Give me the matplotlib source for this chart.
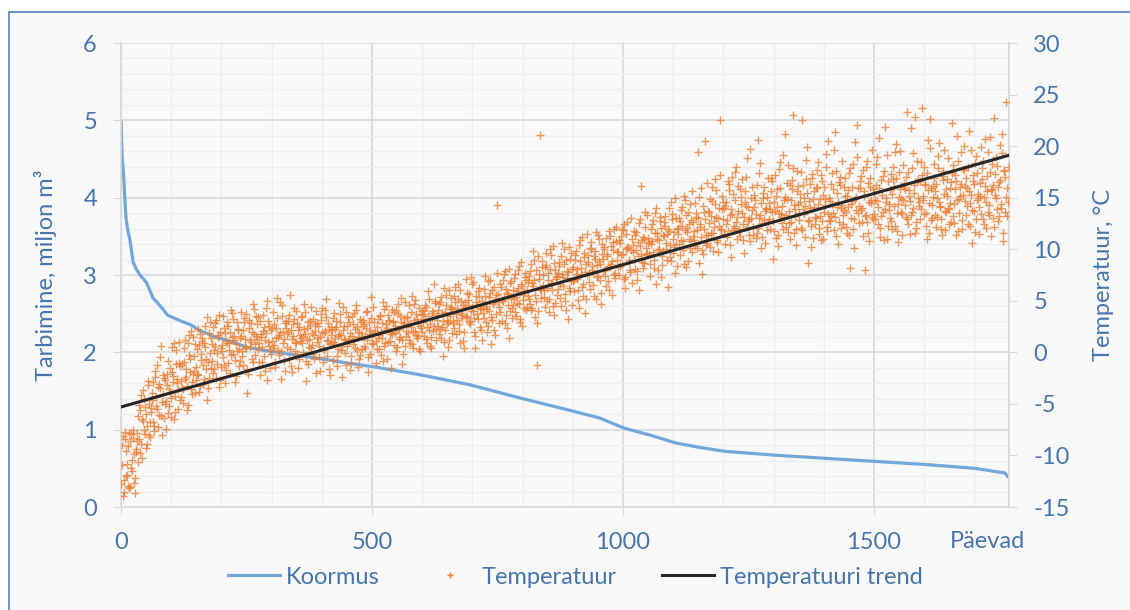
import numpy as np
import matplotlib.pyplot as plt
from matplotlib.lines import Line2D
from matplotlib.patches import Rectangle

plt.rcParams['font.family'] = ['Lato', 'DejaVu Sans']
plt.rcParams['axes.unicode_minus'] = False

# Koormus: load duration curve, day index -> million m3
load_days = [0, 2, 5, 8, 10, 13, 18, 20, 24, 30, 38, 51, 64, 77, 93, 121, 141, 154,
             187, 220, 253, 320, 386, 452, 506, 596, 695, 795, 894, 954, 1002, 1054,
             1104, 1153, 1203, 1303, 1402, 1502, 1602, 1701, 1761, 1768]
load_vals = [5.0, 4.55, 4.3, 3.95, 3.73, 3.6, 3.45, 3.35, 3.17, 3.08, 3.0, 2.9, 2.7, 2.61,
             2.48, 2.4, 2.35, 2.29, 2.2, 2.14, 2.06, 1.99, 1.93, 1.86, 1.81, 1.71, 1.58,
             1.41, 1.25, 1.15, 1.02, 0.93, 0.83, 0.77, 0.72, 0.67, 0.63, 0.59, 0.55, 0.5,
             0.44, 0.38]

# Temperatuur (deg C): days 0, 3, 6, ...
temps_a = [
    -12.8, -8.1, -13.5, -9.6, -11.9, -7.8, -13.1, -10.4, -8.3, -12.2,   # 0
    -9.7, -6.2, -8.4, -4.1, -10.2, -7.5, -5.3, -8.9, -3.2, -6.8,
    -5.8, -2.9, -7.6, -4.3, -1.2, -6.1, -3.5, -8.0, -2.2, -5.0,
    -4.7, -0.8, -3.6, -6.3, -1.9, 0.9, -4.2, -2.6, -5.5, -1.3,
    -2.8, -4.9, 0.4, -1.6, -3.3, 1.7, -0.6, -4.0, -2.1, 0.8,
    -1.4, 2.3, -3.8, -0.2, 1.1, -2.6, 0.5, -4.6, -0.9, 2.9,          # 150
    1.4, -2.0, 0.2, 3.1, -1.1, -3.4, 2.0, 0.7, -0.5, 1.9,
    -1.7, 2.6, 0.9, -0.3, 3.8, 1.2, -2.9, 0.1, 2.2, -0.8,
    1.6, -1.2, 3.3, 0.4, -3.9, 2.4, 1.0, -0.6, 4.2, 0.8,
    2.7, 0.3, -2.2, 1.5, 3.6, -0.4, 1.9, 5.0, 0.6, -1.5,
    1.1, 3.9, -0.9, 2.4, 0.2, 1.7, -2.6, 4.6, 1.3, 2.8,              # 300
    0.5, 2.0, 5.6, -1.3, 1.6, 3.2, 0.9, -0.2, 2.5, 1.1,
    3.5, 0.0, 1.8, -2.8, 2.9, 1.3, 4.4, 0.7, -0.6, 2.1,
    1.0, 2.6, -1.8, 3.7, 0.4, 1.9, 5.2, -0.4, 2.3, 0.8,
    2.2, -0.7, 1.4, 3.0, 0.3, 4.8, 1.7, -2.4, 2.6, 1.2,
    0.6, 3.4, 1.9, -1.0, 2.7, 1.3, 4.1, 0.2, 2.0, -0.3,              # 450
    1.5, 3.1, 0.4, 2.4, -1.9, 1.8, 5.4, 0.9, 2.9, 1.1,
    2.5, 0.3, 3.6, 1.4, -0.8, 2.2, 4.5, 1.0, 3.0, -1.5,
    1.8, 3.9, 2.6, 0.5, 4.7, 1.5, 2.9, -0.2, 3.3, 2.1,
    3.4, 1.2, 2.8, 5.5, 0.4, 2.1, 3.7, 1.6, 4.3, 2.4,
    2.0, 4.1, 3.2, 0.9, 5.9, 2.7, 1.5, 3.8, 6.6, 2.3,                # 600
    3.6, 1.8, 4.9, 2.5, -0.4, 3.9, 5.6, 2.9, 1.2, 4.4,
    4.2, 2.4, 6.3, 3.1, 5.2, 0.9, 3.8, 4.6, 2.0, 7.1,
    3.5, 5.7, 2.7, 4.4, 6.8, 1.6, 4.9, 3.2, 5.4, 2.2,
    5.0, 3.3, 7.4, 4.2, 2.6, 5.8, 0.8, 4.7, 6.3, 3.7,
    14.3, 4.4, 6.6, 3.0, 5.3, 7.9, 2.4, 5.7, 4.0, 6.9,               # 750
    4.6, 7.2, 3.5, 5.9, 8.4, 2.9, 6.4, 5.1, 7.7, 4.1,
    6.8, 5.2, 8.6, 4.3, 7.0, 3.4, -1.2, 9.3, 21.1, 6.0,
    7.5, 5.4, 9.6, 6.2, 3.9, 8.1, 6.7, 10.3, 4.8, 7.3,
    6.1, 8.8, 4.5, 7.6, 10.0, 5.7, 7.9, 3.2, 9.1, 6.9,
    8.3, 5.9, 9.8, 7.1, 4.3, 8.9, 11.2, 6.6, 7.8, 5.2,               # 900
    9.4, 6.8, 10.7, 8.0, 5.5, 9.1, 7.3, 11.4, 8.6, 4.7,
    7.9, 10.2, 6.4, 9.5, 11.8, 8.3, 5.6, 9.9, 7.2, 10.8,
    9.7, 7.5, 11.3, 8.6, 12.4, 6.2, 10.1, 9.0, 7.8, 11.0,
    10.4, 8.1, 11.7, 9.3, 6.0, 16.1, 10.9, 8.7, 12.2, 9.6,
    11.1, 7.4, 10.5, 12.8, 9.0, 6.6, 11.6, 10.0, 13.1, 8.5,          # 1050
    9.8, 12.3, 10.6, 6.3, 11.8, 8.9, 13.4, 10.2, 7.7, 12.0,
    11.5, 9.4, 13.8, 10.8, 15.2, 8.3, 12.1, 11.0, 14.4, 9.7,
    12.6, 10.3, 13.5, 19.4, 8.7, 11.2, 7.6, 12.0, 20.5, 10.6,
    11.4, 14.9, 13.2, 9.8, 12.7, 15.7, 10.9, 12.3, 22.5, 13.9,
    12.9, 10.5, 14.6, 11.8, 16.3, 9.2, 13.4, 12.1, 17.5, 11.0,       # 1200
    13.7, 11.3, 15.1, 12.4, 9.6, 14.2, 18.8, 12.9, 10.8, 16.0,
    12.2, 14.8, 11.6, 20.6, 13.3, 10.1, 15.5, 12.8, 14.0, 11.9,
    14.5, 12.0, 16.6, 9.1, 13.7, 15.2, 11.4, 17.8, 13.1, 12.5,
    13.0, 21.2, 14.9, 11.7, 16.2, 12.6, 23.0, 14.3, 10.4, 15.6,
    12.8, 15.4, 22.5, 13.9, 11.2, 16.8, 8.7, 14.7, 12.3, 17.3,       # 1350
    14.1, 12.4, 16.0, 18.5, 13.2, 10.9, 15.3, 13.6, 19.2, 11.8,
    15.0, 12.7, 17.4, 13.5, 21.4, 11.3, 14.6, 16.5, 12.1, 14.3,
    13.8, 16.9, 11.6, 15.7, 8.2, 14.4, 18.3, 12.9, 15.1, 22.0,
    12.5, 15.9, 14.0, 17.7, 8.0, 13.3, 16.4, 10.8, 14.8, 19.6,
    15.5, 12.9, 18.9, 14.1, 11.2, 16.7, 13.6, 21.9, 15.0, 12.3,      # 1500
    14.4, 17.3, 12.0, 16.1, 19.4, 13.5, 10.7, 15.8, 14.9, 18.2,
    16.4, 13.1, 23.3, 15.2, 11.5, 17.9, 14.0, 22.8, 12.6, 16.8,
    14.6, 18.5, 23.7, 13.4, 16.3, 11.0, 15.7, 19.8, 12.8, 15.1,
    16.9, 12.2, 15.0, 20.3, 14.2, 11.4, 17.6, 13.7, 15.8, 18.8,
    13.9, 16.5, 22.2, 12.5, 17.2, 14.8, 11.8, 16.0, 19.4, 15.3,      # 1650
    17.7, 13.3, 15.9, 21.5, 14.5, 10.6, 16.6, 18.4, 12.9, 15.4,
    14.1, 19.9, 16.8, 12.4, 20.7, 15.6, 13.6, 17.5, 11.3, 16.2,
    22.7, 15.0, 18.1, 13.2, 16.7, 19.3, 10.8, 17.0, 24.3, 14.6,
]

# Temperatuur (deg C): days 1, 4, 7, ...
temps_b = [
    -10.9, -13.9, -8.4, -12.0, -9.1, -13.2, -7.9, -11.5, -9.9, -13.6,  # 1
    -7.8, -10.6, -5.6, -8.9, -6.7, -4.5, -9.3, -7.1, -5.0, -8.2,
    -3.9, -6.8, -2.4, -5.2, -7.2, -3.1, 0.6, -4.8, -6.4, -2.7,
    -3.2, -5.9, -1.5, -4.4, -2.3, -6.5, 0.2, -3.0, -1.0, -4.6,
    -1.1, -3.6, 1.2, -2.4, -5.1, -0.3, 2.1, -2.9, -1.8, -3.9,
    0.3, -2.2, 1.8, -0.7, -3.1, 0.9, -1.6, 3.4, -2.5, -0.1,          # 151
    -0.8, 2.5, 0.6, -2.5, 1.5, 3.6, -1.4, 0.1, 2.4, -3.0,
    0.9, -1.0, 2.0, 4.1, -0.2, 1.6, -2.3, 2.9, 0.3, 1.4,
    -0.4, 2.2, 0.6, 3.7, -2.1, 1.2, 2.8, -0.9, 1.8, 3.5,
    1.3, -0.9, 3.0, 0.5, 2.1, -1.8, 4.3, 1.0, 2.6, -0.2,
    2.4, 0.7, -1.4, 3.3, 1.5, 4.9, 0.1, 2.0, -0.7, 3.0,              # 301
    1.8, 3.6, 0.3, -1.9, 2.7, 1.0, 4.0, 2.2, -0.6, 1.4,
    0.9, 2.3, 3.9, 1.2, -1.1, 2.6, 0.4, 3.2, 1.7, -2.0,
    2.8, 0.6, 1.5, 4.3, -0.9, 2.1, 3.4, 1.1, -1.6, 2.5,
    0.9, 3.8, 2.3, -0.4, 1.6, 2.9, 0.2, 4.4, 1.3, -1.2,
    2.6, 1.1, -1.7, 3.5, 0.8, 2.3, 4.6, 1.5, -0.6, 2.9,              # 451
    0.3, 2.7, 1.6, 4.0, -0.5, 2.2, 3.3, 0.8, 1.9, -1.0,
    3.2, 1.7, -0.3, 2.8, 4.2, 0.9, 2.4, 3.6, 1.1, 2.0,
    2.9, 0.7, 4.1, 2.2, 1.3, 3.5, -1.1, 2.6, 4.9, 1.6,
    1.9, 4.6, 2.5, 0.8, 3.1, 5.1, 1.4, 2.8, 0.1, 3.6,
    3.7, 1.6, 4.4, 2.5, 5.2, 0.6, 3.3, 2.1, 4.8, 1.2,                # 601
    2.6, 4.7, 1.4, 3.8, 6.2, 2.2, 3.1, 0.5, 4.2, 5.3,
    3.0, 5.5, 1.8, 4.3, 2.7, 6.0, 3.6, 1.1, 4.9, 3.4,
    5.1, 2.9, 4.0, 6.6, 3.3, 0.4, 4.6, 5.9, 2.5, 4.2,
    3.8, 6.1, 4.5, 2.0, 5.4, 7.0, 3.1, 4.9, 1.7, 5.6,
    4.9, 2.8, 6.3, 5.0, 7.6, 3.6, 5.8, 1.4, 6.7, 4.3,                # 751
    6.0, 3.9, 5.4, 8.0, 4.7, 6.6, 2.6, 5.9, 7.3, 4.4,
    5.5, 7.9, 4.1, 6.4, 9.0, 5.0, 2.8, 7.1, 6.1, 8.3,
    6.5, 4.4, 8.5, 7.0, 5.2, 9.4, 6.0, 3.6, 8.0, 7.4,
    7.7, 5.3, 9.3, 6.4, 8.6, 4.1, 7.2, 10.2, 5.9, 8.1,
    6.9, 9.0, 7.6, 5.1, 10.4, 8.2, 6.3, 9.6, 3.8, 7.5,               # 901
    8.8, 6.1, 10.0, 7.7, 9.3, 5.2, 8.5, 11.0, 7.0, 9.5,
    9.1, 7.4, 11.1, 8.4, 6.0, 10.3, 8.9, 12.0, 7.7, 9.7,
    8.3, 10.6, 9.4, 11.9, 7.1, 10.0, 12.6, 8.8, 9.9, 6.7,
    9.0, 11.4, 7.9, 10.7, 12.9, 9.5, 8.2, 11.0, 10.1, 13.3,
    10.7, 8.6, 12.4, 9.7, 11.6, 14.0, 8.0, 10.9, 12.1, 9.3,          # 1051
    11.3, 13.2, 9.0, 12.0, 10.4, 14.6, 9.6, 11.7, 13.0, 8.4,
    10.5, 12.7, 14.1, 9.9, 11.9, 13.3, 8.9, 12.4, 10.8, 15.6,
    11.8, 14.5, 10.1, 13.0, 12.2, 15.9, 9.5, 13.6, 11.4, 16.4,
    12.5, 10.2, 14.7, 11.6, 16.8, 13.1, 9.7, 14.0, 12.0, 15.2,
    11.5, 14.2, 12.8, 16.6, 10.4, 13.9, 15.4, 12.3, 18.0, 13.1,      # 1201
    12.0, 15.8, 13.5, 10.9, 14.6, 17.0, 12.7, 11.4, 15.0, 13.8,
    14.1, 11.1, 16.2, 13.0, 18.4, 12.5, 15.0, 10.6, 13.9, 16.9,
    12.9, 15.6, 13.6, 11.8, 17.2, 14.1, 10.3, 15.9, 13.4, 19.1,
    14.8, 12.2, 16.4, 13.7, 11.0, 15.8, 17.9, 13.2, 12.0, 16.1,
    13.5, 17.5, 11.9, 15.0, 14.2, 19.9, 12.7, 16.3, 10.2, 14.9,      # 1351
    15.6, 13.0, 17.7, 12.1, 14.9, 16.6, 11.0, 14.3, 18.0, 13.4,
    12.8, 16.3, 14.4, 19.6, 13.1, 15.5, 10.5, 17.0, 14.0, 12.4,
    16.0, 13.6, 15.2, 11.4, 17.9, 14.7, 12.0, 20.4, 13.8, 15.9,
    14.2, 17.1, 12.6, 15.6, 13.2, 18.6, 11.6, 16.0, 14.5, 12.9,
    13.4, 16.2, 14.7, 20.8, 12.1, 15.3, 17.6, 13.9, 11.0, 16.6,      # 1501
    15.7, 12.7, 18.0, 14.2, 16.9, 11.8, 15.1, 19.5, 13.4, 14.8,
    14.3, 17.0, 12.4, 15.7, 21.8, 13.6, 16.2, 11.6, 18.6, 15.0,
    16.6, 13.9, 15.2, 18.0, 12.3, 17.4, 14.5, 22.6, 13.0, 16.1,
    13.3, 16.3, 19.0, 14.6, 12.9, 17.1, 15.4, 11.9, 16.8, 14.0,
    15.9, 12.6, 18.2, 14.4, 16.6, 21.0, 13.5, 15.2, 12.0, 17.8,      # 1651
    14.7, 16.9, 12.4, 15.6, 19.6, 13.8, 16.3, 11.7, 17.4, 15.0,
    16.4, 13.4, 18.6, 15.1, 12.1, 17.1, 14.3, 20.9, 15.8, 13.0,
    15.3, 18.9, 12.7, 16.5, 14.0, 21.2, 17.6, 13.6, 15.9, 18.0,
]

# Temperatuur (deg C): days 2, 5, 8, ...
temps_c = [
    -9.0, -12.4, -7.7, -10.8, -13.0, -8.6, -11.2, -7.5, -12.7, -9.4,  # 2
    -8.6, -5.1, -9.8, -6.5, -3.7, -7.9, -6.0, -2.8, -8.0, -5.4,
    -4.6, -7.1, -1.8, -5.5, -3.4, -0.5, -6.2, -4.0, -2.5, -7.4,
    -2.1, -5.2, -3.9, 0.5, -2.9, -5.8, -1.1, -3.7, 1.0, -4.3,
    -3.5, -0.9, -2.6, -5.6, 0.9, -1.9, -3.6, 1.5, -0.4, -2.7,
    -2.1, 0.7, -3.3, 1.4, -1.2, 2.6, -0.6, -3.5, 1.9, -1.5,          # 152
    0.8, -1.6, 2.8, -0.1, 1.7, -2.7, 0.4, 3.5, -1.2, 1.1,
    2.9, 0.2, -2.0, 1.5, 3.2, -0.7, 0.8, 2.3, -1.3, 3.9,
    0.1, 2.9, 1.3, -1.6, 3.1, 0.5, 2.0, 4.7, -0.3, 1.6,
    3.4, 0.9, 1.8, -0.9, 2.5, 1.2, -2.7, 3.0, 0.2, 2.2,
    0.4, 2.7, 1.4, 5.3, -0.3, 2.0, 3.5, 0.9, -1.8, 2.4,              # 302
    3.0, -0.6, 2.2, 1.3, 4.3, 0.1, 2.8, -1.5, 1.7, 3.4,
    1.6, 4.7, -0.8, 2.4, 0.5, 3.0, 1.9, -0.2, 2.7, 4.0,
    1.4, -0.5, 3.1, 2.0, 0.2, 4.1, 1.2, 2.8, -2.2, 1.7,
    3.3, 1.0, 2.5, -1.3, 1.8, 3.7, 0.6, 2.2, -0.1, 3.9,
    1.3, 2.9, -0.4, 1.6, 3.8, 0.4, 2.5, -1.4, 3.2, 1.9,              # 452
    2.6, 0.6, 3.9, 1.2, 2.9, -0.2, 1.7, 4.4, 2.1, 0.3,
    1.4, 3.5, 2.0, 4.9, 0.6, 2.7, -0.6, 3.1, 1.8, 4.1,
    3.0, 1.9, 0.1, 3.7, 2.3, 5.3, 1.2, 2.8, 0.6, 3.4,
    2.7, 0.9, 3.9, 2.0, 4.7, 1.7, 3.2, 0.3, 2.6, 4.0,
    2.9, 4.6, 1.3, 3.5, 2.2, 0.4, 4.0, 2.6, 5.0, 3.1,                # 602
    4.1, 2.3, 5.4, 3.0, 1.0, 4.6, 2.7, 6.0, 3.5, 1.9,
    2.8, 4.9, 3.7, 6.6, 2.1, 5.0, 3.3, 0.4, 4.4, 5.8,
    4.6, 3.0, 7.3, 4.0, 2.0, 5.5, 3.7, 6.2, 4.3, 1.2,
    4.3, 5.5, 2.9, 6.9, 4.0, 3.4, 6.0, 2.2, 5.1, 7.7,
    5.7, 3.9, 5.1, 7.0, 2.8, 6.1, 4.6, 8.1, 5.2, 3.3,                # 752
    5.3, 7.6, 4.8, 6.2, 3.2, 8.8, 5.6, 4.3, 7.0, 6.0,
    7.4, 4.7, 6.7, 9.8, 5.6, 8.0, 4.0, 7.6, 5.3, 8.9,
    6.0, 8.3, 5.0, 7.7, 10.0, 6.6, 4.5, 8.7, 7.1, 5.6,
    8.4, 6.6, 10.6, 7.3, 5.0, 9.0, 7.8, 6.2, 9.6, 4.6,
    7.0, 9.4, 8.1, 6.0, 10.9, 7.6, 5.5, 9.2, 8.6, 11.5,              # 902
    7.7, 10.1, 8.4, 6.5, 9.8, 11.7, 7.4, 8.9, 5.8, 10.5,
    10.0, 8.0, 9.3, 6.9, 11.3, 8.6, 10.7, 7.5, 12.2, 9.0,
    10.9, 8.4, 12.0, 9.5, 7.3, 11.5, 10.2, 8.0, 13.0, 9.7,
    11.8, 9.9, 7.0, 12.5, 10.3, 8.8, 11.2, 13.6, 9.4, 10.6,
    9.5, 12.0, 10.8, 8.2, 13.5, 11.0, 9.9, 12.7, 7.3, 11.4,          # 1052
    12.6, 10.0, 11.5, 14.0, 9.2, 12.9, 11.0, 15.0, 10.5, 12.1,
    13.0, 10.9, 12.3, 8.6, 14.8, 11.7, 13.6, 10.1, 12.8, 11.3,
    10.9, 13.1, 11.9, 15.1, 12.4, 9.9, 14.2, 12.9, 10.4, 13.7,
    13.6, 11.6, 16.0, 12.2, 14.4, 10.7, 13.0, 17.2, 11.9, 14.6,
    14.0, 12.4, 11.2, 15.7, 13.3, 17.0, 11.9, 14.8, 12.6, 16.1,      # 1202
    11.8, 14.4, 16.8, 13.1, 15.6, 12.2, 14.1, 19.7, 13.0, 11.4,
    15.3, 13.4, 12.1, 17.4, 14.5, 11.2, 16.0, 13.7, 15.1, 12.6,
    13.9, 16.9, 12.7, 14.6, 11.1, 15.8, 13.5, 18.5, 14.2, 12.0,
    15.1, 13.3, 18.2, 12.5, 14.8, 16.7, 11.6, 13.9, 17.6, 14.4,
    14.6, 12.1, 16.2, 13.4, 18.7, 15.5, 12.8, 14.0, 16.9, 11.1,      # 1352
    13.1, 15.9, 14.4, 11.5, 17.2, 12.7, 16.0, 14.9, 12.2, 20.5,
    14.7, 13.2, 15.8, 11.9, 17.6, 14.1, 12.6, 16.2, 18.6, 13.3,
    15.2, 12.2, 14.1, 17.4, 13.0, 16.0, 10.1, 14.9, 18.9, 13.5,
    16.6, 13.8, 11.3, 15.2, 18.0, 12.6, 14.6, 16.9, 13.1, 15.8,
    14.8, 18.3, 12.4, 15.9, 13.2, 17.1, 10.9, 14.6, 19.1, 13.8,      # 1502
    13.0, 15.4, 16.8, 12.3, 20.2, 14.4, 17.5, 13.6, 11.4, 16.0,
    15.8, 12.9, 17.5, 14.7, 13.3, 19.3, 15.5, 12.1, 16.5, 14.2,
    12.9, 17.2, 14.8, 16.2, 13.5, 20.6, 11.6, 15.9, 14.3, 18.3,
    15.6, 13.1, 17.9, 14.1, 12.0, 16.7, 19.6, 13.6, 15.2, 12.4,
    14.5, 17.4, 13.2, 15.8, 11.4, 18.6, 14.9, 16.3, 12.8, 20.0,      # 1652
    16.1, 14.2, 18.0, 12.3, 15.3, 17.2, 13.7, 19.0, 14.8, 11.5,
    15.2, 17.9, 12.9, 16.1, 14.6, 19.4, 13.3, 15.7, 18.3, 12.2,
    17.3, 13.9, 16.0, 20.1, 14.4, 11.6, 17.7, 15.1, 13.2,
]

# Temperatuuri trend (linear), end points
trend_days = [0, 1768]
trend_vals = [-5.3, 19.1]

x_ticks = [0, 500, 1000, 1500]
y_left_ticks = [0, 1, 2, 3, 4, 5, 6]
y_right_ticks = [-15, -10, -5, 0, 5, 10, 15, 20, 25, 30]

txt_col = '#4774AC'
blue = '#72A7DB'
orange = '#ED7D31'
grid_major = '#D9D9D9'
grid_minor = '#EEEEEE'
fs = 17

fig = plt.figure(figsize=(11.3, 6.1), dpi=100, facecolor='white')
# chart area with blue border (only top/left edge visible)
fig.patches.append(Rectangle((9 / 1130, -0.1), 1.2, 1 - 12 / 610 + 0.1,
                             transform=fig.transFigure, facecolor='#F9F9F9',
                             edgecolor='#4F81BD', lw=1.2, zorder=-10))

W, H = 1130, 610
ax = fig.add_axes([121 / W, 1 - 507 / H, (1008.5 - 121) / W, 464 / H])
ax.set_facecolor('none')
ax.set_xlim(0, 1768)
ax.set_ylim(0, 6)
ax.set_xticks(x_ticks)
ax.set_xticks(np.arange(0, 1769, 100), minor=True)
ax.set_yticks(y_left_ticks)
ax.set_yticks(np.arange(0, 6.01, 0.2), minor=True)
ax.grid(which='major', color=grid_major, lw=1.2)
ax.grid(which='minor', color=grid_minor, lw=1.0)
ax.set_axisbelow(True)
ax.spines['top'].set_visible(False)
for s in ['left', 'bottom', 'right']:
    ax.spines[s].set_color(grid_major)
    ax.spines[s].set_linewidth(1.2)
ax.tick_params(which='minor', length=0)
ax.tick_params(axis='y', which='major', length=5.8, color=grid_major, pad=11.5,
               labelsize=fs, labelcolor=txt_col)
ax.tick_params(axis='x', which='major', length=5.8, color=grid_major, pad=12,
               labelsize=fs, labelcolor=txt_col)

ax.plot(load_days, load_vals, color=blue, lw=2.3, solid_capstyle='butt')

ax2 = ax.twinx()
ax2.set_ylim(-15, 30)
ax2.set_yticks(y_right_ticks)
for s in ['top', 'left', 'bottom']:
    ax2.spines[s].set_visible(False)
ax2.spines['right'].set_color(grid_major)
ax2.spines['right'].set_linewidth(1.2)
ax2.tick_params(axis='y', length=5.8, color=grid_major, pad=12,
                labelsize=fs, labelcolor=txt_col)

temp_days = np.concatenate([np.arange(len(temps_a)) * 3,
                            np.arange(len(temps_b)) * 3 + 1,
                            np.arange(len(temps_c)) * 3 + 2])
temps = np.concatenate([temps_a, temps_b, temps_c])
ax2.scatter(temp_days, temps, marker='+', s=30, linewidths=1.0, color=orange,
            alpha=0.8, zorder=3)
ax2.plot(trend_days, trend_vals, color='#262626', lw=2.2, zorder=4)

ax.set_ylabel('Tarbimine, miljon m³', fontsize=fs, color=txt_col)
ax.yaxis.set_label_coords(-(121 - 57) / 887.5, 0.5)
ax2.set_ylabel('Temperatuur, °C', fontsize=fs, color=txt_col)
ax2.yaxis.set_label_coords((1093 - 121) / 887.5, 0.5)
ax.text(1726, -(541 - 507) / 464, 'Päevad', transform=ax.get_xaxis_transform(),
        ha='center', va='center', fontsize=fs, color=txt_col)

handles = [Line2D([], [], color=blue, lw=2.3),
           Line2D([], [], ls='none', marker='+', ms=4, mew=1, color=orange),
           Line2D([], [], color='#262626', lw=2.2)]
labels = ['Koormus', 'Temperatuur', 'Temperatuuri trend']
fig.legend(handles, labels, loc='center', bbox_to_anchor=(575 / W, 1 - 577 / H),
           ncol=3, frameon=False, fontsize=fs, handlelength=2.2,
           handletextpad=0.25, columnspacing=1.9, labelcolor=txt_col)

fig.savefig('out.png', dpi=100, facecolor=fig.get_facecolor())
